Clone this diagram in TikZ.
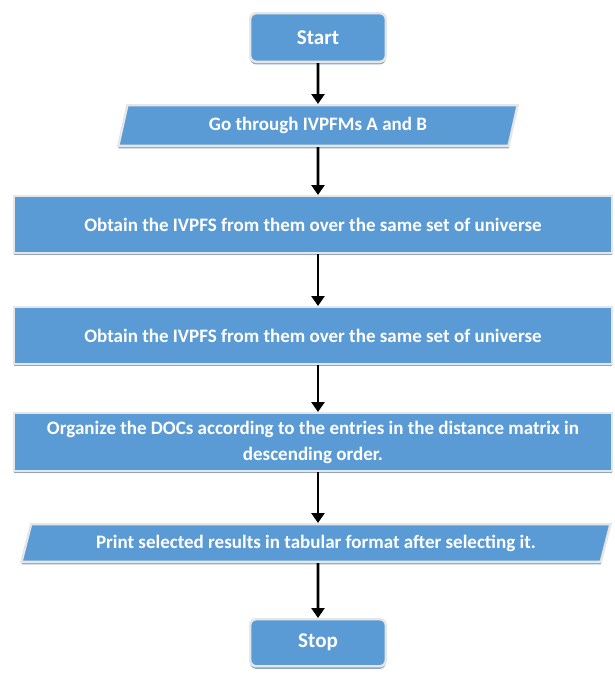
\documentclass[tikz,border=0pt]{standalone}
\usepackage{fontspec}
\setmainfont{Carlito}
\usetikzlibrary{arrows.meta,positioning,shapes.geometric,shadows}
\definecolor{FlowFill}{HTML}{5B9BD5}
\definecolor{FlowEdge}{HTML}{E4E6E8}
\definecolor{FlowShade}{HTML}{8EA6C0}

\begin{document}
\begin{tikzpicture}[x=1pt,y=-1pt,node distance=48pt]
    \tikzset{box/.style={draw=FlowEdge,line width=2.4pt,fill=FlowFill,text=white,
      font=\fontsize{19}{26}\selectfont\bfseries,align=center,
      drop shadow={shadow xshift=0pt,shadow yshift=-2.6pt,fill=FlowShade,opacity=1}},
      terminal/.style={box,rounded corners=6pt,minimum width=135.6pt,minimum height=47pt,
      font=\fontsize{21}{24}\selectfont\bfseries},
      process/.style={box,minimum width=597.6pt,minimum height=56.6pt},
      io/.style={box,trapezium,trapezium stretches=true},
      flow/.style={line width=2.8pt,-{Triangle[length=10pt,width=13pt]}}}
    \useasboundingbox (0,0) rectangle (615,673);
    \node[terminal,minimum height=48.6pt] (start) at (318,37.5) {Start};
    \node[io,below=41pt of start,minimum width=400pt,minimum height=40.6pt,
      trapezium left angle=77,trapezium right angle=103] (input) {Go through IVPFMs A and B};
    \node[process,below=48pt of input,xshift=-5pt] (obtA) {Obtain the IVPFS from them over the same set of universe};
    \node[process,below=52pt of obtA] (obtB) {Obtain the IVPFS from them over the same set of universe};
    \node[process,below=47pt of obtB,minimum height=57.6pt] (organize)
      {Organize the DOCs according to the entries in the distance matrix in\\descending order.};
    \node[io,below=51pt of organize,xshift=3pt,minimum width=593pt,minimum height=37.6pt,
      trapezium left angle=72,trapezium right angle=108] (output)
      {Print selected results in tabular format after selecting it.};
    \node[terminal,below=55pt of output,xshift=2pt] (stop) {Stop};
    % connectors
    \draw[flow] (start) -- (input);
    \draw[flow] (input) -- (input |- obtA.north);
    \draw[flow] (input |- obtA.south) -- (input |- obtB.north);
    \draw[flow] (input |- obtB.south) -- (input |- organize.north);
    \draw[flow] (input |- organize.south) -- (input |- output.north);
    \draw[flow] (input |- output.south) -- (stop);
  \end{tikzpicture}
\end{document}
